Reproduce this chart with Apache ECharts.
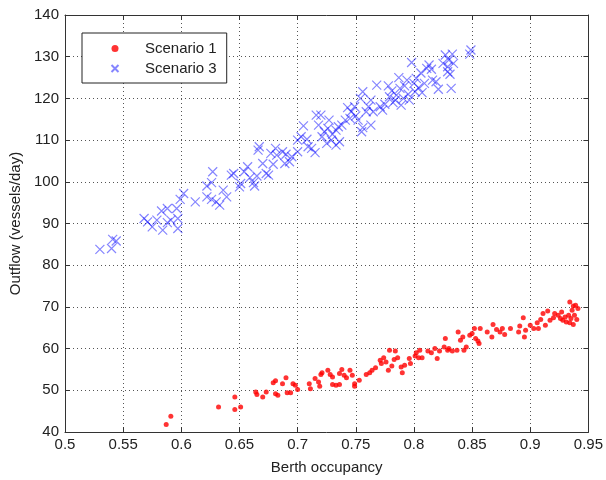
<!DOCTYPE html>
<html>
<head>
<meta charset="utf-8">
<script src="https://cdn.jsdelivr.net/npm/echarts@6/dist/echarts.min.js"></script>
<style>
  html, body { margin: 0; padding: 0; background: #fff; }
  #chart { width: 606px; height: 480px; }
</style>
</head>
<body>
<div id="chart"></div>
<script>
// Scenario 1 (red dots): [berth occupancy, outflow]
const scenario1 = [
  [0.587, 41.8], [0.591, 43.8], [0.632, 46.0], [0.646, 48.4], [0.646, 45.4], [0.651, 46.0],
  [0.664, 49.6], [0.665, 49.0], [0.670, 48.4], [0.673, 49.6], [0.679, 51.8], [0.681, 52.3],
  [0.681, 49.2], [0.683, 48.8], [0.687, 51.6], [0.690, 53.0], [0.691, 49.4], [0.694, 49.4],
  [0.696, 51.6], [0.698, 51.2], [0.700, 50.2], [0.710, 51.6], [0.711, 50.4], [0.715, 52.8],
  [0.718, 52.0], [0.719, 51.0], [0.720, 53.8], [0.721, 54.2], [0.726, 54.8], [0.728, 53.8],
  [0.730, 53.2], [0.730, 51.4], [0.733, 51.2], [0.736, 51.4], [0.736, 54.0], [0.738, 55.0],
  [0.740, 53.6], [0.742, 53.0], [0.745, 54.8], [0.747, 53.6], [0.749, 51.6], [0.749, 51.0],
  [0.753, 52.4], [0.759, 53.8], [0.762, 54.2], [0.764, 54.8], [0.767, 55.4], [0.771, 57.2],
  [0.772, 56.4], [0.774, 57.8], [0.776, 56.8], [0.778, 54.8], [0.779, 59.6], [0.781, 55.8],
  [0.783, 57.4], [0.784, 59.4], [0.786, 57.8], [0.789, 55.6], [0.790, 54.2], [0.792, 56.0],
  [0.796, 57.6], [0.797, 56.4], [0.801, 58.2], [0.802, 59.0], [0.804, 57.8], [0.805, 59.6],
  [0.807, 57.8], [0.812, 59.4], [0.815, 59.0], [0.818, 60.0], [0.820, 57.6], [0.822, 59.4],
  [0.826, 60.4], [0.827, 62.4], [0.829, 59.6], [0.830, 60.0], [0.833, 59.4], [0.837, 59.6],
  [0.838, 64.0], [0.840, 62.0], [0.842, 62.8], [0.843, 59.6], [0.845, 60.4], [0.848, 63.2],
  [0.850, 63.6], [0.852, 64.8], [0.853, 62.4], [0.855, 61.8], [0.856, 61.2], [0.857, 64.8],
  [0.863, 64.0], [0.867, 62.8], [0.868, 65.8], [0.871, 64.6], [0.874, 64.0], [0.876, 64.8],
  [0.878, 63.4], [0.883, 64.8], [0.890, 64.0], [0.891, 65.4], [0.894, 67.4], [0.895, 62.8],
  [0.896, 64.4], [0.900, 65.6], [0.903, 64.8], [0.906, 66.2], [0.907, 64.8], [0.909, 67.0],
  [0.911, 68.4], [0.913, 65.6], [0.915, 69.0], [0.917, 66.8], [0.920, 67.4], [0.921, 68.4],
  [0.924, 68.0], [0.926, 67.2], [0.927, 68.8], [0.928, 66.8], [0.930, 67.6], [0.931, 66.4],
  [0.933, 68.0], [0.934, 66.2], [0.934, 71.2], [0.935, 67.2], [0.936, 69.2], [0.937, 65.8],
  [0.937, 70.2], [0.938, 68.0], [0.939, 70.4], [0.941, 69.6], [0.940, 67.0]
]

// Scenario 3 (blue crosses)
const scenario3 = [
  [0.530, 83.8], [0.540, 84.0], [0.541, 86.2], [0.544, 85.8], [0.568, 91.2], [0.571, 90.4],
  [0.575, 89.2], [0.579, 90.8], [0.584, 88.4], [0.583, 93.0], [0.588, 93.6], [0.588, 90.2],
  [0.591, 90.8], [0.596, 93.6], [0.597, 91.2], [0.597, 88.8], [0.599, 95.8], [0.602, 97.2],
  [0.612, 95.2], [0.622, 99.0], [0.622, 96.4], [0.626, 95.8], [0.627, 102.4], [0.626, 99.8],
  [0.630, 95.2], [0.633, 94.4], [0.636, 98.0], [0.639, 96.4], [0.643, 101.6], [0.645, 102.0],
  [0.650, 98.8], [0.651, 99.6], [0.654, 102.4], [0.657, 103.6], [0.659, 101.0], [0.662, 99.8],
  [0.663, 99.0], [0.665, 101.4], [0.666, 107.6], [0.667, 108.4], [0.670, 104.4], [0.673, 102.0],
  [0.675, 101.6], [0.677, 106.8], [0.679, 104.2], [0.681, 108.0], [0.682, 106.4], [0.687, 107.2],
  [0.689, 104.4], [0.690, 106.6], [0.693, 104.8], [0.695, 106.0], [0.700, 107.2], [0.700, 110.0],
  [0.703, 110.8], [0.705, 113.4], [0.708, 110.2], [0.709, 108.4], [0.712, 108.0], [0.715, 107.0],
  [0.716, 116.0], [0.718, 113.6], [0.720, 116.0], [0.721, 110.8], [0.723, 112.0], [0.725, 109.2],
  [0.726, 112.8], [0.727, 114.8], [0.729, 110.0], [0.730, 111.4], [0.733, 112.4], [0.735, 113.2],
  [0.733, 108.8], [0.736, 109.6], [0.738, 113.6], [0.741, 114.8], [0.743, 117.8], [0.745, 115.2],
  [0.746, 116.8], [0.749, 118.0], [0.750, 115.8], [0.752, 114.8], [0.754, 120.0], [0.756, 121.6],
  [0.755, 112.0], [0.756, 113.0], [0.759, 116.8], [0.761, 118.0], [0.763, 113.6], [0.763, 119.6],
  [0.765, 116.8], [0.768, 123.2], [0.771, 118.0], [0.773, 117.2], [0.775, 118.6], [0.778, 123.0],
  [0.779, 120.4], [0.781, 121.8], [0.782, 119.0], [0.784, 119.6], [0.785, 120.8], [0.787, 125.0],
  [0.788, 122.4], [0.789, 118.4], [0.791, 120.0], [0.792, 123.0], [0.794, 124.4], [0.795, 121.0],
  [0.796, 119.6], [0.798, 128.6], [0.800, 123.6], [0.801, 121.6], [0.802, 124.8], [0.804, 122.6],
  [0.806, 126.1], [0.807, 121.4], [0.809, 123.6], [0.811, 127.2], [0.813, 128.0], [0.815, 127.0],
  [0.816, 124.4], [0.819, 124.0], [0.821, 122.2], [0.825, 128.4], [0.827, 130.4], [0.829, 127.6],
  [0.829, 126.4], [0.830, 129.2], [0.831, 125.8], [0.833, 130.6], [0.832, 122.4], [0.834, 128.4],
  [0.848, 130.6], [0.849, 131.6]
]

const xMin = 0.5
const xMax = 0.95
const yMin = 40
const yMax = 140

const chart = echarts.init(document.getElementById('chart'))

const gridLine = {
  show: true,
  lineStyle: { color: '#555', width: 1, type: [1, 3] }
}
const axisFont = { color: '#222', fontSize: 15, fontFamily: 'Liberation Sans, Arial, sans-serif' }

chart.setOption({
  animation: false,
  backgroundColor: '#fff',
  grid: { left: 65, right: 12, top: 15, bottom: 48 },
  legend: {
    left: 82,
    top: 33,
    orient: 'vertical',
    backgroundColor: '#fff',
    borderColor: '#222',
    borderWidth: 1,
    padding: [8, 10, 7, 27],
    itemWidth: 50,
    itemHeight: 7,
    itemGap: 5,
    textStyle: { color: '#222', fontSize: 15, lineHeight: 14, fontFamily: 'Liberation Sans, Arial, sans-serif' },
    data: ['Scenario 1', 'Scenario 3']
  },
  xAxis: [
    {
      type: 'value',
      min: xMin,
      max: xMax,
      interval: 0.05,
      name: 'Berth occupancy',
      nameLocation: 'middle',
      nameGap: 28,
      nameTextStyle: axisFont,
      axisLine: { onZero: false, lineStyle: { color: '#333' } },
      axisTick: { inside: true, length: 5, lineStyle: { color: '#333' } },
      axisLabel: Object.assign({ margin: 5, formatter: (v) => String(+v.toFixed(2)) }, axisFont),
      splitLine: gridLine
    },
    {
      type: 'value',
      position: 'top',
      min: xMin,
      max: xMax,
      interval: 0.05,
      axisLine: { onZero: false, lineStyle: { color: '#333' } },
      axisTick: { inside: true, length: 5, lineStyle: { color: '#333' } },
      axisLabel: { show: false },
      splitLine: { show: false }
    }
  ],
  yAxis: [
    {
      type: 'value',
      min: yMin,
      max: yMax,
      interval: 10,
      name: 'Outflow (vessels/day)',
      nameLocation: 'middle',
      nameGap: 42,
      nameTextStyle: axisFont,
      axisLine: { show: true, onZero: false, lineStyle: { color: '#333' } },
      axisTick: { show: true, inside: true, length: 5, lineStyle: { color: '#333' } },
      axisLabel: Object.assign({ margin: 6 }, axisFont),
      splitLine: gridLine
    },
    {
      type: 'value',
      position: 'right',
      min: yMin,
      max: yMax,
      interval: 10,
      axisLine: { show: true, onZero: false, lineStyle: { color: '#333' } },
      axisTick: { show: true, inside: true, length: 5, lineStyle: { color: '#333' } },
      axisLabel: { show: false },
      splitLine: { show: false }
    }
  ],
  series: [
    {
      name: 'Scenario 1',
      type: 'scatter',
      symbol: 'circle',
      symbolSize: 5,
      itemStyle: { color: '#ff0000' },
      data: scenario1
    },
    {
      name: 'Scenario 3',
      type: 'scatter',
      symbol: 'path://M0,0L10,10M10,0L0,10',
      symbolSize: 9,
      itemStyle: { color: 'none', borderColor: 'rgba(0,0,255,0.6)', borderWidth: 1.2 },
      data: scenario3
    }
  ]
})
</script>
</body>
</html>
